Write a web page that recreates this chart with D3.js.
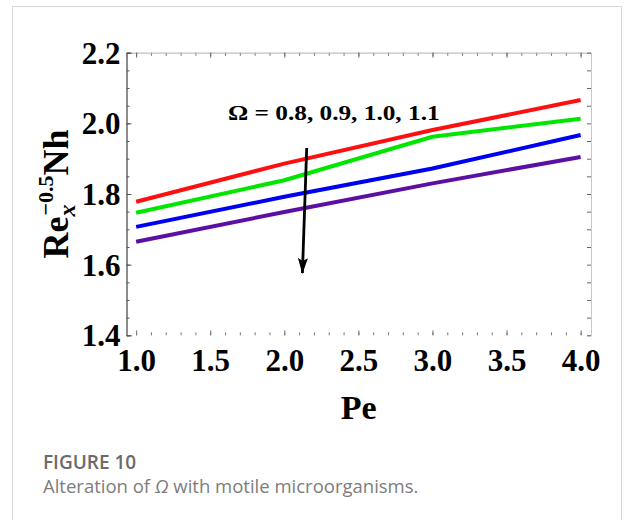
<!DOCTYPE html>
<html>
<head>
<meta charset="utf-8">
<script src="https://cdn.jsdelivr.net/npm/d3@7"></script>
<style>
  html, body { margin: 0; padding: 0; background: #fff; }
  svg { display: block; }
  .serif { font-family: "Liberation Serif", "Times New Roman", serif; font-weight: bold; fill: #000; }
  .caption { font-family: "Open Sans", "Noto Sans", sans-serif; }
</style>
</head>
<body>
<svg id="chart" width="624" height="520"></svg>
<script>
// Péclet number samples
const peValues = [1, 2, 3, 4];
// Ω values, one per curve (increasing in the arrow direction)
const omegaValues = ["0.8", "0.9", "1.0", "1.1"];
// Re_x^-0.5 Nh for each Ω
const nhOmega08 = [1.778, 1.886, 1.981, 2.066];
const nhOmega09 = [1.747, 1.839, 1.962, 2.013];
const nhOmega10 = [1.707, 1.792, 1.872, 1.967];
const nhOmega11 = [1.665, 1.749, 1.830, 1.905];
const seriesColors = ["#ff1010", "#00e600", "#0000f0", "#5c0fa3"];
// axis ticks
const xTicks = [1.0, 1.5, 2.0, 2.5, 3.0, 3.5, 4.0];
const yTicks = [1.4, 1.6, 1.8, 2.0, 2.2];

const series = [nhOmega08, nhOmega09, nhOmega10, nhOmega11];

const svg = d3.select("#chart");

// card border
svg.append("rect")
  .attr("x", 12.5).attr("y", 6.5).attr("width", 609).attr("height", 540)
  .attr("fill", "#fff").attr("stroke", "#d6d6d6").attr("stroke-width", 1);

const x = d3.scaleLinear().domain([0.935, 4.07]).range([126.5, 591]);
const y = d3.scaleLinear().domain([1.4, 2.2]).range([335.3, 52.7]);

const [x0, x1] = x.range();
const [y0, y1] = y.range();

const fmt = d3.format(".1f");
const xMinor = d3.range(10, 41).map(d => d / 10);
const yMinor = d3.range(28, 45).map(d => d / 20);

// top frame
const topFrame = svg.append("g").attr("transform", `translate(0,${y1})`);
topFrame.call(d3.axisTop(x).tickValues(xMinor).tickSize(-3).tickFormat(""));
topFrame.append("g").call(d3.axisTop(x).tickValues(xTicks).tickSize(-5).tickFormat(""));
topFrame.selectAll(".domain").attr("stroke", "#c8c8c8");
topFrame.selectAll(".tick line").attr("stroke", "#666");

// right frame
const rightFrame = svg.append("g").attr("transform", `translate(${x1},0)`);
rightFrame.call(d3.axisRight(y).tickValues(yMinor).tickSize(-4).tickFormat(""));
rightFrame.selectAll(".domain").attr("stroke", "#c8c8c8");
rightFrame.selectAll(".tick line").attr("stroke", "#666");

// bottom ticks and labels
const bottomFrame = svg.append("g").attr("transform", `translate(0,${y0})`);
bottomFrame.call(d3.axisBottom(x).tickValues(xMinor).tickSize(-3).tickFormat(""));
bottomFrame.append("g").call(d3.axisBottom(x).tickValues(xTicks).tickSize(-5).tickFormat(""));
bottomFrame.selectAll(".domain").attr("stroke", "none");
bottomFrame.selectAll(".tick line").attr("stroke", "#777");
const bottomLabels = svg.append("g").attr("transform", `translate(0,${y0})`)
  .call(d3.axisBottom(x).tickValues(xTicks).tickSize(0).tickPadding(14).tickFormat(fmt));
bottomLabels.select(".domain").remove();
bottomLabels.selectAll("text").attr("class", "serif").attr("font-size", 31);

// left axis
const leftAxis = svg.append("g").attr("transform", `translate(${x0},0)`);
leftAxis.call(d3.axisLeft(y).tickValues(yMinor).tickSize(-3).tickFormat(""));
leftAxis.append("g").call(d3.axisLeft(y).tickValues(yTicks).tickSize(-5).tickPadding(6).tickFormat(fmt));
leftAxis.selectAll(".domain").attr("stroke", "#666");
leftAxis.selectAll(".tick line").attr("stroke", "#555");
leftAxis.selectAll("text").attr("class", "serif").attr("font-size", 31).attr("dy", "0.34em");

// curves
const line = d3.line()
  .x((d, i) => x(peValues[i]))
  .y(d => y(d));

svg.append("g").selectAll("path")
  .data(series)
  .join("path")
  .attr("d", line)
  .attr("fill", "none")
  .attr("stroke", (d, i) => seriesColors[i])
  .attr("stroke-width", 4)
  .attr("stroke-linejoin", "round");

// annotation (slightly widened glyphs)
svg.append("text")
  .attr("class", "serif")
  .attr("transform", "translate(228,120) scale(1.15,1)")
  .attr("font-size", 22)
  .text(`Ω = ${omegaValues.join(", ")}`);

// arrow showing increasing Ω
svg.append("defs").append("marker")
  .attr("id", "head").attr("viewBox", "0 0 16 10")
  .attr("refX", 15).attr("refY", 5)
  .attr("markerWidth", 16).attr("markerHeight", 10)
  .attr("markerUnits", "userSpaceOnUse")
  .attr("orient", "auto")
  .append("path").attr("d", "M0,0 L3,5 L0,10 L16,5 Z").attr("fill", "#000");

svg.append("path")
  .attr("d", "M306.7,148 Q304.5,210 302.4,273")
  .attr("fill", "none").attr("stroke", "#000").attr("stroke-width", 2.8)
  .attr("marker-end", "url(#head)");

// axis titles
svg.append("text")
  .attr("class", "serif")
  .attr("x", (x0 + x1) / 2).attr("y", 419)
  .attr("text-anchor", "middle")
  .attr("font-size", 34)
  .text("Pe");

const yTitle = svg.append("text")
  .attr("class", "serif")
  .attr("transform", `translate(68,194) rotate(-90)`)
  .attr("text-anchor", "middle")
  .attr("font-size", 36);
yTitle.append("tspan").text("Re");
yTitle.append("tspan").attr("font-size", 24).attr("font-style", "italic").attr("dy", 7).text("x");
yTitle.append("tspan").attr("font-size", 22).attr("dx", -11).attr("dy", -22).text("−0.5");
yTitle.append("tspan").attr("dy", 15).text("Nh");

// caption
svg.append("text")
  .attr("class", "caption")
  .attr("x", 43).attr("y", 469)
  .attr("font-size", 19).attr("font-weight", 600).attr("fill", "#6b6b6b")
  .text("FIGURE 10");

const cap = svg.append("text")
  .attr("class", "caption")
  .attr("x", 43).attr("y", 493)
  .attr("font-size", 18.5).attr("font-weight", 400).attr("fill", "#7d7d7d");
cap.append("tspan").text("Alteration of ");
cap.append("tspan").attr("font-style", "italic").text("Ω");
cap.append("tspan").text(" with motile microorganisms.");
</script>
</body>
</html>
